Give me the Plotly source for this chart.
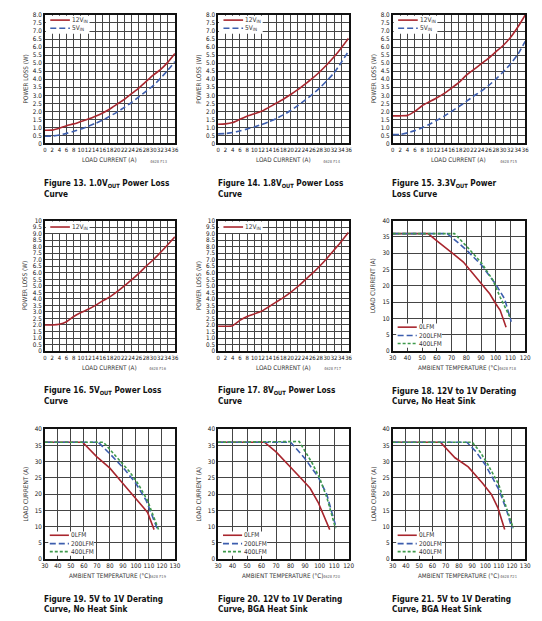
import plotly.graph_objects as go

# page geometry (the browser body adds an 8px margin at top-left)
PAGE_W, PAGE_H = 542, 621
OX, OY = 8, 8
W, H = PAGE_W - OX, PAGE_H - OY

# ---------------- data ----------------
load_current = [0, 2, 4, 6, 8, 10, 12, 14, 16, 18, 20, 22, 24, 26, 28, 30, 32, 34, 36]

f13_12vin = [0.82, 0.83, 0.95, 1.1, 1.22, 1.37, 1.52, 1.7, 1.9, 2.15, 2.45, 2.75, 3.1, 3.45, 3.85, 4.25, 4.6, 5.05, 5.6]
f13_5vin = [0.45, 0.46, 0.53, 0.63, 0.76, 0.9, 1.07, 1.25, 1.45, 1.7, 1.95, 2.25, 2.55, 2.9, 3.25, 3.6, 4.05, 4.55, 5.1]

f14_12vin = [1.2, 1.22, 1.3, 1.5, 1.7, 1.85, 2.0, 2.25, 2.5, 2.75, 3.05, 3.35, 3.7, 4.05, 4.45, 4.9, 5.4, 5.95, 6.55]
f14_5vin = [0.6, 0.62, 0.68, 0.78, 0.9, 1.03, 1.18, 1.35, 1.55, 1.78, 2.05, 2.35, 2.7, 3.05, 3.45, 3.9, 4.4, 5.05, 5.75]

f15_12vin = [1.72, 1.72, 1.75, 2.0, 2.35, 2.6, 2.85, 3.12, 3.45, 3.8, 4.25, 4.6, 4.95, 5.3, 5.7, 6.1, 6.6, 7.25, 8.0]
f15_5vin = [0.55, 0.56, 0.66, 0.8, 0.98, 1.2, 1.45, 1.7, 2.0, 2.3, 2.62, 2.95, 3.25, 3.6, 4.0, 4.45, 4.95, 5.55, 6.35]

f16_12vin = [2.0, 2.0, 2.05, 2.25, 2.65, 2.95, 3.2, 3.5, 3.85, 4.15, 4.55, 5.0, 5.45, 5.95, 6.5, 7.0, 7.55, 8.15, 8.75]

f17_12vin = [1.9, 1.9, 1.95, 2.35, 2.65, 2.85, 3.05, 3.4, 3.75, 4.1, 4.5, 4.95, 5.45, 5.95, 6.5, 7.1, 7.75, 8.4, 9.1]

f18_0lfm_t = [30, 54, 60, 66, 72, 78, 84, 90, 96, 100, 103, 107]
f18_0lfm_i = [36, 36, 33.8, 31.5, 29.5, 27.3, 24, 20.5, 17.5, 14.5, 12.5, 7.3]
f18_200lfm_t = [30, 67, 75, 80, 90, 97, 100, 106, 110.5]
f18_200lfm_i = [36, 36, 33, 31, 26.5, 22.5, 20.5, 16, 9]
f18_400lfm_t = [30, 72, 80, 90, 98, 103, 109.5]
f18_400lfm_i = [36, 36, 32.2, 27.2, 21.8, 16.5, 10.5]

f19_0lfm_t = [30, 59, 70, 80, 90, 100, 109, 114]
f19_0lfm_i = [36, 36, 31.5, 28, 23.3, 18.7, 14.4, 9.1]
f19_200lfm_t = [30, 71, 81, 91, 100, 108, 116.5]
f19_200lfm_i = [36, 36, 32, 27.8, 23.3, 18, 9.3]
f19_400lfm_t = [30, 75, 85, 95, 102, 109, 117.5]
f19_400lfm_i = [36, 36, 31.5, 27, 23, 18, 9]

f20_0lfm_t = [30, 62, 70, 81, 87, 93.5, 99, 107]
f20_0lfm_i = [36, 36, 33, 28, 25, 21.8, 17.5, 9.1]
f20_200lfm_t = [30, 80, 90, 99, 105, 111.5]
f20_200lfm_i = [36, 36, 30.9, 25.3, 19.9, 9.6]
f20_400lfm_t = [30, 84, 86, 90, 95, 100, 105, 111]
f20_400lfm_i = [36, 36, 36.2, 33.2, 29.5, 25, 19, 9.5]

f21_0lfm_t = [30, 66, 77, 87, 98, 104.5, 109.5, 114.5]
f21_0lfm_i = [36, 36, 31.2, 28.4, 23.3, 19.9, 15.7, 9.1]
f21_200lfm_t = [30, 86, 93, 100, 110, 116, 120]
f21_200lfm_i = [36, 36, 33, 29, 21.5, 15, 9.5]
f21_400lfm_t = [30, 90, 96, 102, 110, 116, 121]
f21_400lfm_i = [36, 36, 33, 29, 23, 16, 9.5]

loss_names = ["12V<sub>IN</sub>", "5V<sub>IN</sub>"]
derate_names = ["0LFM", "200LFM", "400LFM"]

loss_ticks_x = list(range(0, 37, 2))
loss8_tickvals = [i * 0.5 for i in range(17)]
loss8_ticktext = ["0"] + ["%.1f" % v for v in loss8_tickvals[1:]]
loss10_tickvals = [i * 0.5 for i in range(21)]
loss10_ticktext = ["0"] + ["%.1f" % v for v in loss10_tickvals[1:-1]] + ["10"]
temp_ticks_120 = list(range(30, 121, 10))
temp_ticks_130 = list(range(30, 131, 10))
cur_ticks = list(range(0, 41, 5))

captions = [
    ("Figure 13. 1.0V<sub>OUT</sub> Power Loss", "Curve"),
    ("Figure 14. 1.8V<sub>OUT</sub> Power Loss", "Curve"),
    ("Figure 15. 3.3V<sub>OUT</sub> Power", "Loss Curve"),
    ("Figure 16. 5V<sub>OUT</sub> Power Loss", "Curve"),
    ("Figure 17. 8V<sub>OUT</sub> Power Loss", "Curve"),
    ("Figure 18. 12V to 1V Derating", "Curve, No Heat Sink"),
    ("Figure 19. 5V to 1V Derating", "Curve, No Heat Sink"),
    ("Figure 20. 12V to 1V Derating", "Curve, BGA Heat Sink"),
    ("Figure 21. 5V to 1V Derating", "Curve, BGA Heat Sink"),
]
codes = ["4628 F13", "4628 F14", "4628 F15", "4628 F16", "4628 F17",
         "4628 F18", "4628 F19", "4628 F20", "4628 F21"]

# ---------------- styles ----------------
RED = "#a8262e"
BLUE = "#3d5eae"
GREEN = "#3f9a4c"
GRID = "#454545"
FONT = "DejaVu Sans Condensed, Liberation Sans Narrow, Arial Narrow, sans-serif"

s_red = dict(color=RED, width=1.6)
s_blue = dict(color=BLUE, width=1.6, dash="6px,3px")
s_green = dict(color=GREEN, width=1.6, dash="3px,2px")

panels = [
    dict(kind="loss", x=[load_current, load_current], y=[f13_12vin, f13_5vin], names=loss_names, styles=[s_red, s_blue], yr=8),
    dict(kind="loss", x=[load_current, load_current], y=[f14_12vin, f14_5vin], names=loss_names, styles=[s_red, s_blue], yr=8),
    dict(kind="loss", x=[load_current, load_current], y=[f15_12vin, f15_5vin], names=loss_names, styles=[s_red, s_blue], yr=8),
    dict(kind="loss", x=[load_current], y=[f16_12vin], names=loss_names[:1], styles=[s_red], yr=10),
    dict(kind="loss", x=[load_current], y=[f17_12vin], names=loss_names[:1], styles=[s_red], yr=10),
    dict(kind="derate", x=[f18_0lfm_t, f18_200lfm_t, f18_400lfm_t], y=[f18_0lfm_i, f18_200lfm_i, f18_400lfm_i],
         names=derate_names, styles=[s_red, s_blue, s_green], xr=120),
    dict(kind="derate", x=[f19_0lfm_t, f19_200lfm_t, f19_400lfm_t], y=[f19_0lfm_i, f19_200lfm_i, f19_400lfm_i],
         names=derate_names, styles=[s_red, s_blue, s_green], xr=130),
    dict(kind="derate", x=[f20_0lfm_t, f20_200lfm_t, f20_400lfm_t], y=[f20_0lfm_i, f20_200lfm_i, f20_400lfm_i],
         names=derate_names, styles=[s_red, s_blue, s_green], xr=120),
    dict(kind="derate", x=[f21_0lfm_t, f21_200lfm_t, f21_400lfm_t], y=[f21_0lfm_i, f21_200lfm_i, f21_400lfm_i],
         names=derate_names, styles=[s_red, s_blue, s_green], xr=130),
]

# plot-area pixel boxes on the page
col_px = [(41.5, 174), (218, 351), (396, 531)]
row_px = [(11, 141), (219, 351), (430, 561.5)]


def px(x):
    return (x - OX) / W


def py(y):
    return 1 - (y - OY) / H


fig = go.Figure()
layout = {}
shapes = []
annotations = []

tickfont = dict(family=FONT, size=6.3, color="#111")
loss_xtickfont = dict(family=FONT, size=5.9, color="#111")
titlefont = dict(family=FONT, size=6.3, color="#333")
capfont = dict(family=FONT, size=8.2, color="#111")
legfont = dict(family=FONT, size=6.5, color="#333")
PAD = 3  # annotation inner padding compensation

for i, p in enumerate(panels):
    n = i + 1
    r, c = divmod(i, 3)
    L, R = col_px[c]
    T, B = row_px[r]
    pw, ph = R - L, B - T
    xid = "x" if n == 1 else "x%d" % n
    yid = "y" if n == 1 else "y%d" % n
    xa = "xaxis" if n == 1 else "xaxis%d" % n
    ya = "yaxis" if n == 1 else "yaxis%d" % n

    for xs, ys, nm, st in zip(p["x"], p["y"], p["names"], p["styles"]):
        line = dict(shape="spline", smoothing=0.6, **st) if p["kind"] == "loss" else st
        fig.add_trace(go.Scatter(x=xs, y=ys, name=nm, mode="lines", line=line,
                                 xaxis=xid, yaxis=yid, showlegend=False, hoverinfo="skip"))

    common = dict(showgrid=True, gridcolor=GRID, gridwidth=1, showline=True, mirror=True,
                  linecolor="#111", linewidth=1.5, zeroline=False, ticks="", fixedrange=True)
    if p["kind"] == "loss":
        yv, yt = (loss8_tickvals, loss8_ticktext) if p["yr"] == 8 else (loss10_tickvals, loss10_ticktext)
        layout[xa] = dict(domain=[px(L), px(R)], anchor=yid, range=[0, 36], tickvals=loss_ticks_x,
                          tickangle=0, tickfont=loss_xtickfont, **common)
        layout[ya] = dict(domain=[py(B), py(T)], anchor=xid, range=[0, p["yr"]], tickvals=yv,
                          ticktext=yt, tickfont=tickfont, **common)
        xtitle, ytitle = "LOAD CURRENT (A)", "POWER LOSS (W)"
    else:
        xt = temp_ticks_120 if p["xr"] == 120 else temp_ticks_130
        layout[xa] = dict(domain=[px(L), px(R)], anchor=yid, range=[30, p["xr"]], tickvals=xt,
                          tickangle=0, tickfont=tickfont, **common)
        layout[ya] = dict(domain=[py(B), py(T)], anchor=xid, range=[0, 40], tickvals=cur_ticks,
                          tickfont=tickfont, **common)
        xtitle, ytitle = "AMBIENT TEMPERATURE (°C)", "LOAD CURRENT (A)"

    # axis titles
    annotations.append(dict(text=xtitle, xref="paper", yref="paper", x=px((L + R) / 2), y=py(B + 16.5),
                            xanchor="center", yanchor="middle", showarrow=False, font=titlefont))
    annotations.append(dict(text=ytitle, xref="paper", yref="paper", x=px(L - 20), y=py((T + B) / 2),
                            xanchor="center", yanchor="middle", textangle=-90, showarrow=False, font=titlefont))
    annotations.append(dict(text=codes[i], xref="paper", yref="paper", x=px(R - 6), y=py(B + 18),
                            xanchor="right", yanchor="middle", showarrow=False,
                            font=dict(family=FONT, size=4, color="#666")))
    # captions
    l1, l2 = captions[i]
    annotations.append(dict(text="<b>%s</b>" % l1, xref="paper", yref="paper", x=px(L + 0.5 - PAD), y=py(B + 40),
                            xanchor="left", yanchor="middle", showarrow=False, font=capfont))
    annotations.append(dict(text="<b>%s</b>" % l2, xref="paper", yref="paper", x=px(L + 0.5 - PAD), y=py(B + 50.7),
                            xanchor="left", yanchor="middle", showarrow=False, font=capfont))

    # legend (drawn inside the plot area)
    xd, yd = xid + " domain", yid + " domain"
    if p["kind"] == "loss":
        k = len(p["names"])
        box_h = 19 if k == 2 else 12.5
        shapes.append(dict(type="rect", xref=xd, yref=yd, x0=1 / pw, x1=45.5 / pw, y0=1 - box_h / ph, y1=1 - 0.8 / ph,
                           fillcolor="white", line=dict(width=0), layer="above"))
        item_y = [5.2, 13.5] if k == 2 else [6.5]
        for j in range(k):
            yy = 1 - item_y[j] / ph
            st = p["styles"][j]
            shapes.append(dict(type="line", xref=xd, yref=yd, x0=5.5 / pw, x1=25.5 / pw, y0=yy, y1=yy,
                               line=dict(color=st["color"], width=st["width"], dash=st.get("dash", "solid")), layer="above"))
            annotations.append(dict(text=p["names"][j], xref=xd, yref=yd, x=(28.5 - PAD) / pw, y=yy, xanchor="left",
                                    yanchor="middle", showarrow=False, font=legfont))
    else:
        shapes.append(dict(type="rect", xref=xd, yref=yd, x0=3.5 / pw, x1=50 / pw, y0=3.4 / ph, y1=28 / ph,
                           fillcolor="white", line=dict(width=0), layer="above"))
        item_y = [24.2, 15.7, 7.6]
        for j in range(3):
            yy = item_y[j] / ph
            st = p["styles"][j]
            shapes.append(dict(type="line", xref=xd, yref=yd, x0=5 / pw, x1=24.5 / pw, y0=yy, y1=yy,
                               line=dict(color=st["color"], width=st["width"], dash=st.get("dash", "solid")), layer="above"))
            annotations.append(dict(text=p["names"][j], xref=xd, yref=yd, x=(27.5 - PAD) / pw, y=yy, xanchor="left",
                                    yanchor="middle", showarrow=False, font=legfont))

fig.update_layout(width=W, height=H, margin=dict(l=0, r=0, t=0, b=0), paper_bgcolor="white",
                  plot_bgcolor="white", showlegend=False, shapes=shapes, annotations=annotations, **layout)

fig.write_html("out.html", config={"displayModeBar": False})
